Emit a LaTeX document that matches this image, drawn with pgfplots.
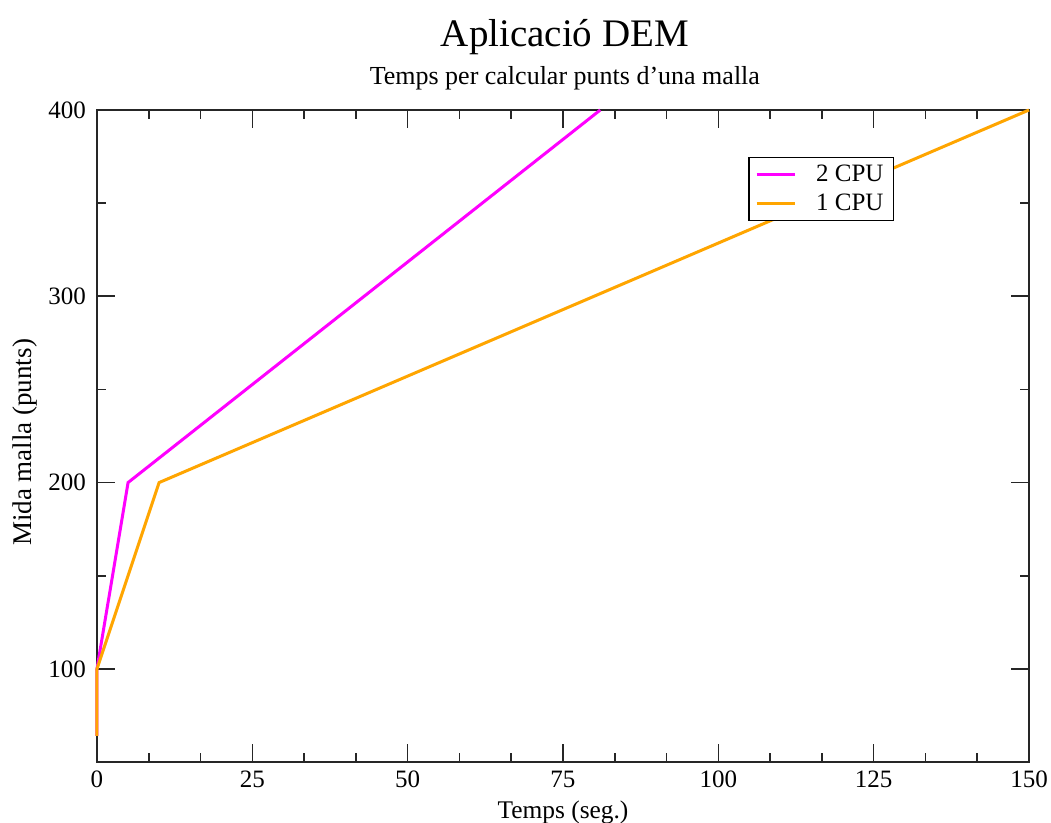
\documentclass[border=0pt]{standalone}
\usepackage{fontspec}
\setmainfont{Liberation Serif}
\usepackage{pgfplots}
\pgfplotsset{compat=1.18}
\definecolor{cpumag}{RGB}{255,0,255}
\definecolor{cpuorg}{RGB}{255,165,0}

\begin{document}
\begin{tikzpicture}
\begin{axis}[
    name=ax,
    scale only axis,
    width=466pt, height=326pt,
    xmin=0, xmax=150, ymin=50, ymax=400,
    xtick={0,25,...,150},
    minor x tick num=2,
    ytick={100,200,300,400},
    minor ytick={150,250,350},
    tick align=inside,
    major tick length=9pt,
    minor tick length=4.5pt,
    axis line style={line width=0.9pt, black!85},
    every tick/.style={line width=0.8pt, black!85},
    /pgf/number format/assume math mode=true,
    ticklabel style={font=\fontsize{12.5}{14}\selectfont},
    yticklabel style={xshift=-2pt},
    xticklabel style={yshift=-1pt},
    clip=false,
    legend style={at={(rel axis cs:0.699,0.928)}, anchor=north west,
        draw=black, line width=0.6pt, font=\fontsize{12.5}{14}\selectfont,
        inner xsep=3pt, inner ysep=1.5pt, row sep=1pt, cells={anchor=east}},
    legend image code/.code={\draw[#1, line width=1.5pt] (0cm,0cm) -- (0.67cm,0cm);},
]
\addplot[cpumag, line width=1.5pt] coordinates {(0,64) (0,100) (5,200) (81,400)};
\addlegendentry{\hspace{8pt}2 CPU}
\addplot[cpuorg, line width=1.5pt] coordinates {(0,64) (0,100) (10,200) (150,400)};
\addlegendentry{\hspace{8pt}1 CPU}
\node[font=\fontsize{19.5}{22}\selectfont] at (rel axis cs:0.502,1) [yshift=36.5pt] {Aplicació DEM};
\node[font=\fontsize{13}{15}\selectfont] at (rel axis cs:0.502,1) [yshift=16pt] {Temps per calcular punts d’una malla};
\node[font=\fontsize{12.7}{15}\selectfont] at (rel axis cs:0.5,0) [yshift=-25pt] {Temps (seg.)};
\node[xshift=-36pt, rotate=90, font=\fontsize{13.5}{15}\selectfont] at (rel axis cs:0,0.49) {Mida malla (punts)};
\coordinate (sw) at (rel axis cs:0,0);
\coordinate (ne) at (rel axis cs:1,1);
\end{axis}
\pgfresetboundingbox
\path[use as bounding box] ([xshift=-48.5pt,yshift=-30.5pt]sw) rectangle ([xshift=11pt,yshift=55pt]ne);
\end{tikzpicture}
\end{document}
